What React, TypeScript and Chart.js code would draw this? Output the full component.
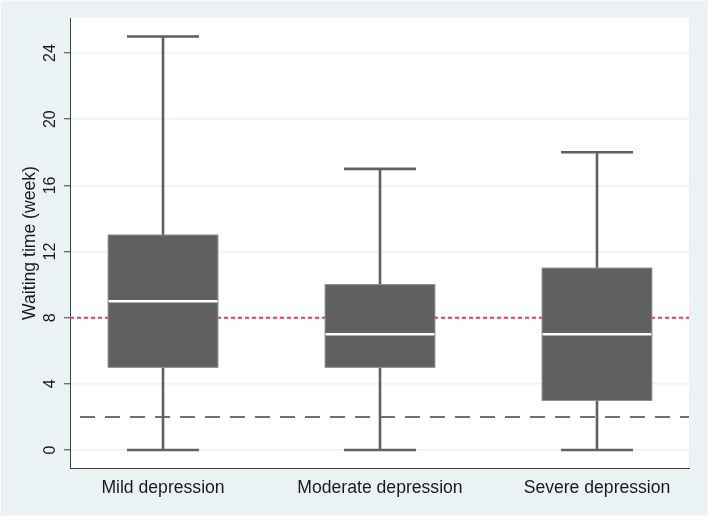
import React, { useEffect, useRef } from "react";
import { Chart, registerables } from "chart.js";

Chart.register(...registerables);

const categories = ["Mild depression", "Moderate depression", "Severe depression"];
const whiskerLow = [0, 0, 0];
const q1 = [5, 5, 3];
const medians = [9, 7, 7];
const q3 = [13, 10, 11];
const whiskerHigh = [25, 17, 18];
const yTicks = [0, 4, 8, 12, 16, 20, 24];
const refLineDotted = 8;
const refLineDashed = 2;

const FONT = "'Liberation Sans', Arial, Helvetica, sans-serif";
const BG = "#eaf2f3";

const boxPlugin = {
  id: "boxPlot",
  beforeDraw(chart: any) {
    const { ctx, chartArea, width, height } = chart;
    ctx.save();
    ctx.fillStyle = BG;
    ctx.fillRect(0, 0, width, height);
    ctx.strokeStyle = "#f5f9fa";
    ctx.lineWidth = 1;
    ctx.strokeRect(0.5, 0.5, width - 1, height - 1);
    ctx.fillStyle = "#ffffff";
    ctx.fillRect(chartArea.left, chartArea.top, chartArea.right - chartArea.left, chartArea.bottom - chartArea.top);
    ctx.restore();
  },
  beforeDatasetsDraw(chart: any) {
    const { ctx, chartArea, scales } = chart;
    const x = scales.x;
    const y = scales.y;
    ctx.save();
    // reference lines
    ctx.lineWidth = 2;
    ctx.strokeStyle = "#707070";
    ctx.setLineDash([15, 10]);
    ctx.lineDashOffset = 15;
    const yd = y.getPixelForValue(refLineDashed);
    ctx.beginPath();
    ctx.moveTo(chartArea.left, yd);
    ctx.lineTo(chartArea.right, yd);
    ctx.stroke();

    ctx.strokeStyle = "#d6406a";
    ctx.setLineDash([4, 3]);
    ctx.lineDashOffset = 0;
    const yr = y.getPixelForValue(refLineDotted);
    ctx.beginPath();
    ctx.moveTo(chartArea.left, yr);
    ctx.lineTo(chartArea.right, yr);
    ctx.stroke();
    ctx.setLineDash([]);

    categories.forEach((_, i) => {
      const pos = i + 1;
      const cx = x.getPixelForValue(pos);
      const half = x.getPixelForValue(pos + 0.253) - cx;
      const capHalf = x.getPixelForValue(pos + 0.166) - cx;
      const yLow = y.getPixelForValue(whiskerLow[i]);
      const yQ1 = y.getPixelForValue(q1[i]);
      const yMed = y.getPixelForValue(medians[i]);
      const yQ3 = y.getPixelForValue(q3[i]);
      const yHigh = y.getPixelForValue(whiskerHigh[i]);

      ctx.strokeStyle = "#606060";
      ctx.lineWidth = 2.6;
      ctx.beginPath();
      ctx.moveTo(cx, yLow);
      ctx.lineTo(cx, yQ1);
      ctx.moveTo(cx, yQ3);
      ctx.lineTo(cx, yHigh);
      ctx.moveTo(cx - capHalf, yLow);
      ctx.lineTo(cx + capHalf, yLow);
      ctx.moveTo(cx - capHalf, yHigh);
      ctx.lineTo(cx + capHalf, yHigh);
      ctx.stroke();

      ctx.fillStyle = "#606060";
      ctx.fillRect(cx - half, yQ3, half * 2, yQ1 - yQ3);
      ctx.strokeStyle = "#8a8a8a";
      ctx.lineWidth = 1;
      ctx.strokeRect(cx - half, yQ3, half * 2, yQ1 - yQ3);

      ctx.strokeStyle = "#ffffff";
      ctx.lineWidth = 2.5;
      ctx.beginPath();
      ctx.moveTo(cx - half + 0.5, yMed);
      ctx.lineTo(cx + half - 0.5, yMed);
      ctx.stroke();
    });
    ctx.restore();
  },
};

export default function App() {
  const canvasRef = useRef<HTMLCanvasElement | null>(null);

  useEffect(() => {
    document.body.style.margin = "0";
    const canvas = canvasRef.current;
    if (!canvas) return;
    const chart = new Chart(canvas, {
      type: "scatter",
      data: {
        datasets: [
          {
            data: medians.map((m, i) => ({ x: i + 1, y: m })),
            pointRadius: 0,
            pointHoverRadius: 0,
            showLine: false,
          },
        ],
      },
      options: {
        animation: false,
        responsive: true,
        maintainAspectRatio: false,
        events: [],
        layout: { padding: { left: 0, top: 18, right: 19, bottom: 0 } },
        plugins: {
          legend: { display: false },
          tooltip: { enabled: false },
        },
        scales: {
          x: {
            type: "linear",
            min: 0.5714,
            max: 3.424,
            afterBuildTicks: (scale: any) => {
              scale.ticks = categories.map((_, i) => ({ value: i + 1 }));
            },
            afterFit: (scale: any) => {
              scale.height = 48;
            },
            grid: { display: false, drawTicks: false },
            border: { display: true, color: "#404040", width: 1 },
            ticks: {
              autoSkip: false,
              maxRotation: 0,
              minRotation: 0,
              padding: 10,
              color: "#1a1a1a",
              font: { family: FONT, size: 17.6 },
              callback: (v: any) => categories[Math.round(Number(v)) - 1] ?? "",
            },
          },
          y: {
            type: "linear",
            min: -1.088,
            max: 26.12,
            afterBuildTicks: (scale: any) => {
              scale.ticks = yTicks.map((v) => ({ value: v }));
            },
            afterFit: (scale: any) => {
              scale.width = 70;
            },
            grid: {
              color: BG,
              lineWidth: 1.5,
              tickColor: "#404040",
              tickLength: 6,
              tickWidth: 1,
            },
            border: { display: true, color: "#404040", width: 1 },
            ticks: {
              minRotation: 90,
              maxRotation: 90,
              crossAlign: "center",
              padding: 5,
              autoSkip: false,
              color: "#1a1a1a",
              font: { family: FONT, size: 16 },
            },
            title: {
              display: true,
              text: "Waiting time (week)",
              color: "#1a1a1a",
              font: { family: FONT, size: 17.6 },
              padding: { top: 20, bottom: 0 },
            },
          },
        },
      },
      plugins: [boxPlugin],
    } as any);
    return () => chart.destroy();
  }, []);

  return (
    <div style={{ position: "fixed", left: 0, top: 0, width: 708, height: 516 }}>
      <canvas ref={canvasRef} />
    </div>
  );
}
